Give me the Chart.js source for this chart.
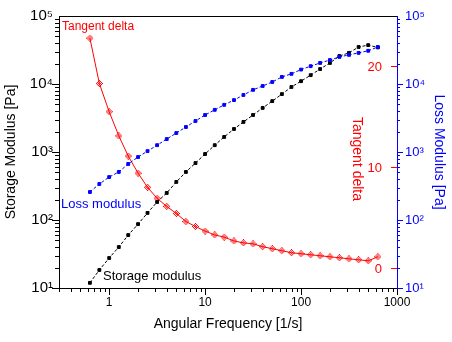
<!DOCTYPE html>
<html>
<head>
<meta charset="utf-8">
<script src="https://cdn.jsdelivr.net/npm/chart.js@4/dist/chart.umd.min.js"></script>
<style>
  html, body { margin: 0; padding: 0; background: #fff; }
  #wrap { width: 452px; height: 342px; }
</style>
</head>
<body>
<div id="wrap"><canvas id="rheoChart" width="452" height="342"></canvas></div>
<script>
  // angular frequency [1/s]
  const freq = [0.63, 0.79, 1.0, 1.26, 1.58, 2.0, 2.51, 3.16, 3.98, 5.01, 6.31, 7.94,
    10, 12.6, 15.8, 20, 25.1, 31.6, 39.8, 50.1, 63.1, 79.4,
    100, 126, 158, 200, 251, 316, 398, 501, 631];

  // storage modulus G' [Pa]
  const storage = [11.9, 18.4, 27.6, 40, 60, 87, 127, 184, 250, 363, 509, 688,
    935, 1260, 1665, 2180, 2770, 3500, 4450, 5600, 7100, 9050,
    11000, 13500, 16600, 20400, 25800, 28700, 35000, 37300, 34500];

  // loss modulus G'' [Pa]
  const loss = [258, 339, 428, 509, 667, 843, 1030, 1260, 1550, 1900, 2330, 2860,
    3500, 4170, 4940, 5800, 6900, 8200, 9350, 10700, 12700, 14100,
    16300, 18300, 20400, 22500, 25000, 26800, 28700, 30800, 35000];

  // tangent delta
  const tanDelta = [22.8, 18.3, 15.5, 13.1, 11.1, 9.4, 8.0, 6.9, 6.1, 5.4, 4.6, 4.1,
    3.65, 3.27, 3.05, 2.67, 2.48, 2.38, 2.1, 1.9, 1.7, 1.5,
    1.4, 1.3, 1.2, 1.1, 1.0, 0.9, 0.8, 0.7, 1.1];

  const xTicks = [1, 10, 100, 1000];
  const yTicks = [10, 100, 1000, 10000, 100000];
  const yTickLabels = ['10¹', '10²', '10³', '10⁴', '10⁵'];
  const tanTicks = [0, 10, 20];

  const FONT = '"Liberation Sans", Arial, sans-serif';
  const BLUE = '#0000ff';
  const RED = '#ff0000';

  // hatched diamond marker for tangent delta
  function makeDiamond() {
    const c = document.createElement('canvas');
    c.width = 7; c.height = 7;
    const g = c.getContext('2d');
    g.fillStyle = RED;
    for (let yy = 0; yy < 7; yy++) {
      for (let xx = 0; xx < 7; xx++) {
        const d = Math.abs(xx - 3) + Math.abs(yy - 3);
        if (d === 3 || d === 1) g.fillRect(xx, yy, 1, 1);
      }
    }
    return c;
  }

  const pts = vals => freq.map((f, i) => ({ x: f, y: vals[i] }));

  // tick marks, top frame, tangent axis and in-plot labels
  const decor = {
    id: 'decor',
    afterDraw(chart) {
      const { ctx, chartArea: a, scales } = chart;
      const line = (x1, y1, x2, y2) => { ctx.beginPath(); ctx.moveTo(x1, y1); ctx.lineTo(x2, y2); ctx.stroke(); };
      ctx.save();
      ctx.lineWidth = 1;

      ctx.strokeStyle = '#000';
      line(a.left, Math.round(a.top) + 0.5, a.right, Math.round(a.top) + 0.5);

      const logVals = (min, max) => {
        const out = [];
        for (let d = 0.1; d <= 10000; d *= 10) {
          for (let m = 1; m <= 9; m++) {
            const v = +(m * d).toPrecision(3);
            if (v >= min * 0.999 && v <= max * 1.001) out.push({ v, major: m === 1 });
          }
        }
        return out;
      };

      // x axis ticks
      const sx = scales.x;
      logVals(sx.min, sx.max).forEach(t => {
        const px = Math.round(sx.getPixelForValue(t.v)) + 0.5;
        line(px, a.bottom, px, a.bottom + (t.major ? 7 : 4));
      });

      // left axis ticks
      const sy = scales.y;
      logVals(sy.min, sy.max).forEach(t => {
        const py = Math.round(sy.getPixelForValue(t.v)) + 0.5;
        line(a.left, py, a.left - (t.major ? 7 : 4), py);
      });

      // right (loss) axis ticks
      const sl = scales.yLoss;
      ctx.strokeStyle = BLUE;
      logVals(sl.min, sl.max).forEach(t => {
        const py = Math.round(sl.getPixelForValue(t.v)) + 0.5;
        line(a.right, py, a.right + (t.major ? 6 : 3), py);
      });

      // tangent delta axis (inside, on the right)
      const st = scales.yTan;
      ctx.strokeStyle = RED;
      ctx.fillStyle = RED;
      ctx.font = '13px ' + FONT;
      ctx.textAlign = 'right';
      ctx.textBaseline = 'middle';
      tanTicks.forEach(v => {
        const py = Math.round(st.getPixelForValue(v)) + 0.5;
        line(a.right, py, a.right - 6, py);
        ctx.fillText(String(v), a.right - 15, py + 1);
      });
      ctx.save();
      ctx.translate(357, 159);
      ctx.rotate(Math.PI / 2);
      ctx.textAlign = 'center';
      ctx.font = '14px ' + FONT;
      ctx.fillText('Tangent delta', 0, 0);
      ctx.restore();

      // series labels
      ctx.textAlign = 'left';
      ctx.textBaseline = 'alphabetic';
      ctx.font = '12px ' + FONT;
      ctx.fillStyle = RED;
      ctx.fillText('Tangent delta', 62, 30);
      ctx.font = '13px ' + FONT;
      ctx.fillStyle = BLUE;
      ctx.fillText('Loss modulus', 61, 208);
      ctx.fillStyle = '#000';
      ctx.fillText('Storage modulus', 103, 280);

      ctx.restore();
    }
  };

  const ctx = document.getElementById('rheoChart').getContext('2d');

  const chart = new Chart(ctx, {
    type: 'line',
    data: {
      datasets: [
        {
          label: 'Storage modulus',
          data: pts(storage),
          yAxisID: 'y',
          borderColor: '#000',
          backgroundColor: '#000',
          borderWidth: 1,
          borderDash: [3, 2],
          pointStyle: 'rect',
          pointRadius: 2,
          pointBorderWidth: 1,
          order: 2
        },
        {
          label: 'Loss modulus',
          data: pts(loss),
          yAxisID: 'yLoss',
          borderColor: BLUE,
          backgroundColor: BLUE,
          borderWidth: 1,
          borderDash: [3, 2],
          pointStyle: 'rect',
          pointRadius: 2,
          pointBorderWidth: 1,
          order: 1
        },
        {
          label: 'Tangent delta',
          data: pts(tanDelta),
          yAxisID: 'yTan',
          borderColor: RED,
          backgroundColor: RED,
          borderWidth: 1,
          pointStyle: makeDiamond(),
          order: 3
        }
      ]
    },
    options: {
      responsive: false,
      animation: false,
      layout: { padding: { top: 16, left: 0, right: 0, bottom: 0 } },
      plugins: {
        legend: { display: false },
        tooltip: { enabled: false }
      },
      scales: {
        x: {
          type: 'logarithmic',
          position: 'bottom',
          min: 0.31,
          max: 1000,
          grid: { display: false, drawTicks: false },
          border: { display: true, color: '#000', width: 1 },
          afterBuildTicks: s => { s.ticks = xTicks.map(v => ({ value: v })); },
          ticks: {
            callback: v => String(v),
            color: '#000',
            font: { size: 12, family: FONT },
            padding: 7,
            maxRotation: 0,
            autoSkip: false
          },
          title: {
            display: true,
            text: 'Angular Frequency [1/s]',
            color: '#000',
            font: { size: 14, family: FONT },
            padding: { top: 0, bottom: 9 }
          },
          afterFit: s => { s.height = 54; }
        },
        y: {
          type: 'logarithmic',
          position: 'left',
          min: 10,
          max: 100000,
          grid: { display: false, drawTicks: false },
          border: { display: true, color: '#000', width: 1 },
          afterBuildTicks: s => { s.ticks = yTicks.map(v => ({ value: v })); },
          ticks: {
            callback: v => yTickLabels[yTicks.indexOf(v)],
            color: '#000',
            font: { size: 15, family: FONT },
            padding: 6,
            autoSkip: false
          },
          title: {
            display: true,
            text: 'Storage Modulus [Pa]',
            color: '#000',
            font: { size: 14, family: FONT },
            padding: { top: 3, bottom: 0 }
          },
          afterFit: s => { s.width = 59; }
        },
        yLoss: {
          type: 'logarithmic',
          position: 'right',
          weight: 1,
          min: 10,
          max: 100000,
          grid: { display: false, drawTicks: false },
          border: { display: true, color: BLUE, width: 1 },
          afterBuildTicks: s => { s.ticks = yTicks.map(v => ({ value: v })); },
          ticks: {
            callback: v => yTickLabels[yTicks.indexOf(v)],
            color: BLUE,
            font: { size: 13, family: FONT },
            padding: 8,
            autoSkip: false
          },
          title: {
            display: true,
            text: 'Loss Modulus [Pa]',
            color: BLUE,
            font: { size: 14, family: FONT },
            padding: { top: 5, bottom: 0 }
          },
          afterFit: s => { s.width = 55; }
        },
        yTan: {
          type: 'linear',
          display: false,
          min: -2,
          max: 25
        }
      }
    },
    plugins: [decor]
  });
</script>
</body>
</html>
